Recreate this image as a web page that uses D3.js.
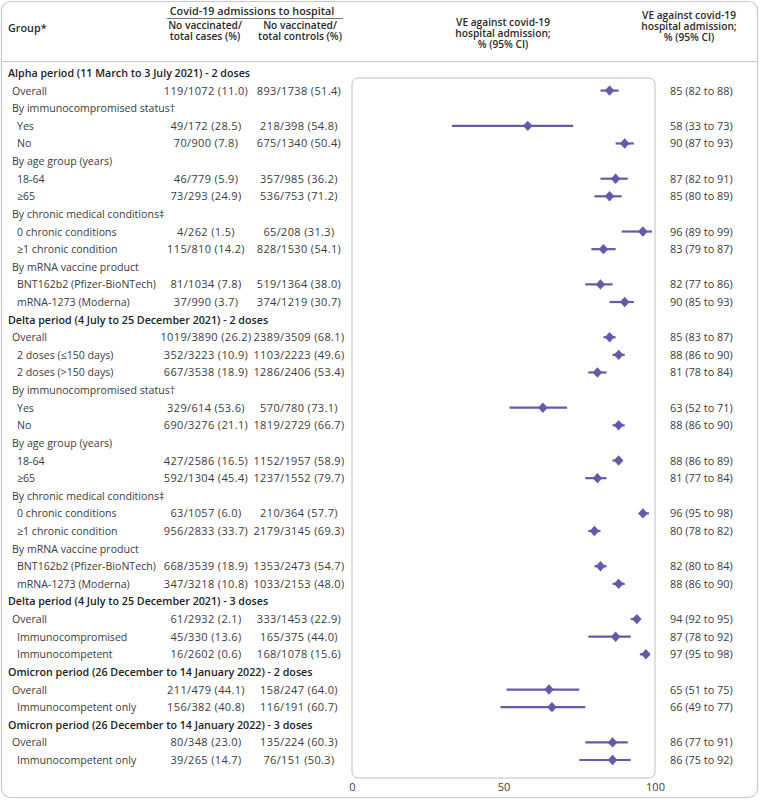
<!DOCTYPE html>
<html>
<head>
<meta charset="utf-8">
<script src="https://cdn.jsdelivr.net/npm/d3@7"></script>
<style>
  body { margin: 0; background: #fff; }
  svg { display: block; }
  text { font-family: "Open Sans", "Noto Sans", sans-serif; }
</style>
</head>
<body>
<svg id="chart" width="760" height="800"></svg>
<script>
// ---- data ----
const labels = [
  "Alpha period (11 March to 3 July 2021) - 2 doses",
  "Overall", "By immunocompromised status\u2020", "Yes", "No",
  "By age group (years)", "18-64", "\u226565",
  "By chronic medical conditions\u2021", "0 chronic conditions", "\u22651 chronic condition",
  "By mRNA vaccine product", "BNT162b2 (Pfizer-BioNTech)", "mRNA-1273 (Moderna)",
  "Delta period (4 July to 25 December 2021) - 2 doses",
  "Overall", "2 doses (\u2264150 days)", "2 doses (>150 days)",
  "By immunocompromised status\u2020", "Yes", "No",
  "By age group (years)", "18-64", "\u226565",
  "By chronic medical conditions\u2021", "0 chronic conditions", "\u22651 chronic condition",
  "By mRNA vaccine product", "BNT162b2 (Pfizer-BioNTech)", "mRNA-1273 (Moderna)",
  "Delta period (4 July to 25 December 2021) - 3 doses",
  "Overall", "Immunocompromised", "Immunocompetent",
  "Omicron period (26 December to 14 January 2022) - 2 doses",
  "Overall", "Immunocompetent only",
  "Omicron period (26 December to 14 January 2022) - 3 doses",
  "Overall", "Immunocompetent only"
];
// 0 = period header, 1 = first level, 2 = second level
const levels = [0,1,1,2,2,1,2,2,1,2,2,1,2,2, 0,1,2,2,1,2,2,1,2,2,1,2,2,1,2,2, 0,1,2,2, 0,1,2, 0,1,2];
const cases = [
  null, "119/1072 (11.0)", null, "49/172 (28.5)", "70/900 (7.8)",
  null, "46/779 (5.9)", "73/293 (24.9)",
  null, "4/262 (1.5)", "115/810 (14.2)",
  null, "81/1034 (7.8)", "37/990 (3.7)",
  null, "1019/3890 (26.2)", "352/3223 (10.9)", "667/3538 (18.9)",
  null, "329/614 (53.6)", "690/3276 (21.1)",
  null, "427/2586 (16.5)", "592/1304 (45.4)",
  null, "63/1057 (6.0)", "956/2833 (33.7)",
  null, "668/3539 (18.9)", "347/3218 (10.8)",
  null, "61/2932 (2.1)", "45/330 (13.6)", "16/2602 (0.6)",
  null, "211/479 (44.1)", "156/382 (40.8)",
  null, "80/348 (23.0)", "39/265 (14.7)"
];
const controls = [
  null, "893/1738 (51.4)", null, "218/398 (54.8)", "675/1340 (50.4)",
  null, "357/985 (36.2)", "536/753 (71.2)",
  null, "65/208 (31.3)", "828/1530 (54.1)",
  null, "519/1364 (38.0)", "374/1219 (30.7)",
  null, "2389/3509 (68.1)", "1103/2223 (49.6)", "1286/2406 (53.4)",
  null, "570/780 (73.1)", "1819/2729 (66.7)",
  null, "1152/1957 (58.9)", "1237/1552 (79.7)",
  null, "210/364 (57.7)", "2179/3145 (69.3)",
  null, "1353/2473 (54.7)", "1033/2153 (48.0)",
  null, "333/1453 (22.9)", "165/375 (44.0)", "168/1078 (15.6)",
  null, "158/247 (64.0)", "116/191 (60.7)",
  null, "135/224 (60.3)", "76/151 (50.3)"
];
const ve = [null,85,null,58,90,null,87,85,null,96,83,null,82,90,
  null,85,88,81,null,63,88,null,88,81,null,96,80,null,82,88,
  null,94,87,97, null,65,66, null,86,86];
const lo = [null,82,null,33,87,null,82,80,null,89,79,null,77,85,
  null,83,86,78,null,52,86,null,86,77,null,95,78,null,80,86,
  null,92,78,95, null,51,49, null,77,75];
const hi = [null,88,null,73,93,null,91,89,null,99,87,null,86,93,
  null,87,90,84,null,71,90,null,89,84,null,98,82,null,84,90,
  null,95,92,98, null,75,77, null,91,92];
const xTicks = [0, 50, 100];

// ---- layout ----
const svg = d3.select("#chart");
const purple = "#6a56ab";
const textCol = "#3c3c3c";

const x = d3.scaleLinear().domain([0, 100]).range([352, 655]);
const y = d3.scaleLinear().domain([0, labels.length - 1]).range([73, 760]);

// outer frame
svg.append("rect").attr("x", 1.5).attr("y", 1.5).attr("width", 756).attr("height", 796)
  .attr("rx", 9).attr("fill", "none").attr("stroke", "#c9c9c9").attr("stroke-width", 1.2);
svg.append("line").attr("x1", 2).attr("x2", 758).attr("y1", 61.5).attr("y2", 61.5)
  .attr("stroke", "#c9c9c9").attr("stroke-width", 1.2);

// headers
const hdr = svg.append("g").attr("font-size", 10.2).attr("font-weight", 600).attr("fill", "#2a2a2a");
hdr.append("text").attr("x", 8).attr("y", 32).attr("font-size", 10.8).text("Group*");
hdr.append("text").attr("x", 252).attr("y", 15).attr("font-size", 10.8)
  .attr("text-anchor", "middle").text("Covid-19 admissions to hospital");
svg.append("line").attr("x1", 167).attr("x2", 343).attr("y1", 18.5).attr("y2", 18.5)
  .attr("stroke", "#555").attr("stroke-width", 0.8);

function multi(xc, y0, lines, dy) {
  const t = hdr.append("text").attr("x", xc).attr("y", y0).attr("text-anchor", "middle");
  lines.forEach((s, i) => t.append("tspan").attr("x", xc).attr("dy", i === 0 ? 0 : dy).text(s));
}
multi(205, 28.5, ["No vaccinated/", "total cases (%)"], 11.2);
multi(300, 28.5, ["No vaccinated/", "total controls (%)"], 11.2);
const veHdr = ["VE against covid-19", "hospital admission;", "% (95% CI)"];
multi(503, 26, veHdr, 11.2);
multi(689, 18.5, veHdr, 11.2);

// plot box
svg.append("rect").attr("x", x(0)).attr("y", 78).attr("width", x(100) - x(0)).attr("height", 700)
  .attr("rx", 6).attr("fill", "none").attr("stroke", "#bdbdca").attr("stroke-width", 1);

// axis
const axis = svg.append("g").attr("transform", "translate(0,778)")
  .call(d3.axisBottom(x).tickValues(xTicks).tickSize(0).tickPadding(5));
axis.select(".domain").remove();
axis.selectAll("text").attr("font-size", 11).attr("fill", textCol)
  .attr("font-family", '"Open Sans", "Noto Sans", sans-serif');

// rows
const rows = labels.map((l, i) => ({ label: l, level: levels[i], cases: cases[i], controls: controls[i], ve: ve[i], lo: lo[i], hi: hi[i], i }));
const indentX = [8, 12, 17];

const g = svg.append("g");
const rowG = g.selectAll("g.row").data(rows).join("g").attr("class", "row")
  .attr("transform", d => `translate(0,${y(d.i)})`);

rowG.append("text")
  .attr("x", d => indentX[d.level]).attr("y", 4)
  .attr("font-size", d => d.level === 0 ? 10.7 : 10.6)
  .attr("font-weight", d => d.level === 0 ? 600 : 400)
  .attr("fill", d => d.level === 0 ? "#222" : textCol)
  .text(d => d.label);

rowG.filter(d => d.cases).append("text").attr("x", 206).attr("y", 4)
  .attr("font-size", 11).attr("letter-spacing", 0.35)
  .attr("text-anchor", "middle").attr("fill", textCol).text(d => d.cases);
rowG.filter(d => d.controls).append("text").attr("x", 299).attr("y", 4)
  .attr("font-size", 11).attr("letter-spacing", 0.35)
  .attr("text-anchor", "middle").attr("fill", textCol).text(d => d.controls);

const est = rowG.filter(d => d.ve != null);
est.append("line").attr("x1", d => x(d.lo)).attr("x2", d => x(d.hi)).attr("y1", 0).attr("y2", 0)
  .attr("stroke", purple).attr("stroke-width", 2.2);
est.append("path").attr("transform", d => `translate(${x(d.ve)},0)`)
  .attr("d", "M0,-5.2L4.8,0L0,5.2L-4.8,0Z").attr("fill", purple);
est.append("text").attr("x", 670).attr("y", 4).attr("font-size", 10.9).attr("fill", textCol)
  .text(d => `${d.ve} (${d.lo} to ${d.hi})`);
</script>
</body>
</html>
